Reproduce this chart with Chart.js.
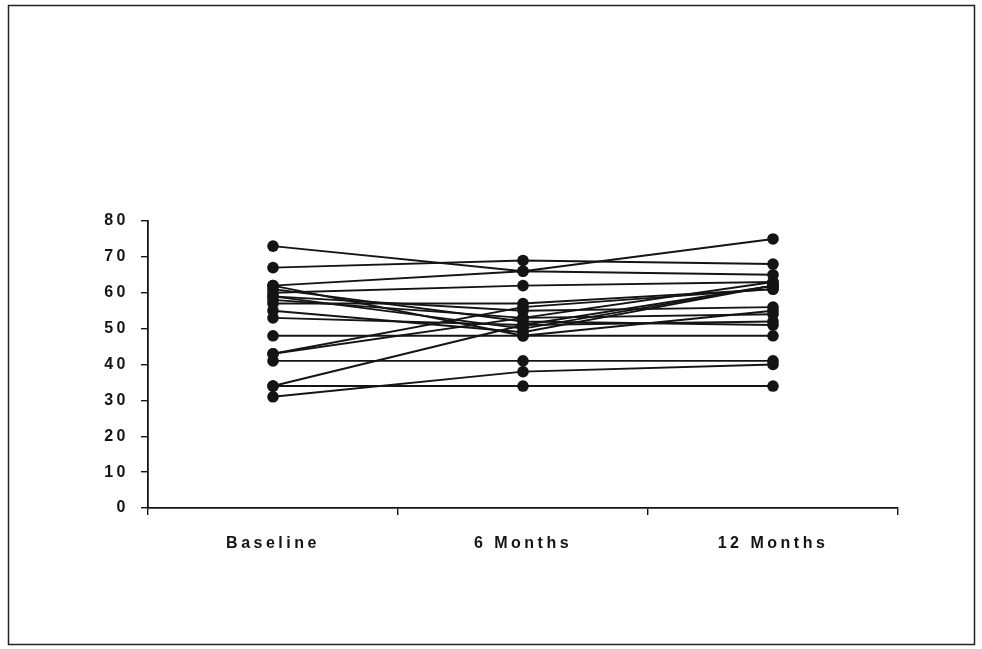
<!DOCTYPE html>
<html>
<head>
<meta charset="utf-8">
<script src="https://cdn.jsdelivr.net/npm/chart.js@4/dist/chart.umd.min.js"></script>
<style>
  html, body { margin: 0; padding: 0; background: #fff; }
  #wrap { position: relative; width: 982px; height: 649px; }
</style>
</head>
<body>
<div id="wrap"><canvas id="c" width="982" height="649"></canvas></div>
<script>
// Time points on the x axis
const timepoints = ['Baseline', '6 Months', '12 Months'];

// One entry per subject, same order in every array
const baseline = [73, 67, 62, 60, 62, 61, 59, 57, 55, 53, 48, 43, 43, 41, 34, 34, 31, 58, 59];
const month6   = [66, 69, 66, 62, 48, 52, 55, 57, 49, 51, 48, 53, 56, 41, 51, 34, 38, 53, 50];
const month12  = [75, 68, 65, 63, 48, 51, 56, 61, 62, 52, 55, 63, 61, 41, 62, 34, 40, 54, 62];

// Y axis range and step
const yMin = 0, yMax = 80, yStep = 10;

const ink = '#141414';
const datasets = baseline.map((b, i) => ({
  data: [b, month6[i], month12[i]],
  borderColor: ink,
  borderWidth: 1.9,
  pointRadius: 5.8,
  pointHoverRadius: 5.8,
  pointBackgroundColor: ink,
  pointBorderColor: ink,
  pointBorderWidth: 0,
  tension: 0,
  fill: false
}));

// Outer frame and spaced lettering for all text
const framePlugin = {
  id: 'frame',
  beforeDraw(chart) {
    const ctx = chart.ctx;
    ctx.save();
    ctx.fillStyle = '#fff';
    ctx.fillRect(0, 0, chart.width, chart.height);
    ctx.strokeStyle = '#222';
    ctx.lineWidth = 1.5;
    ctx.strokeRect(8.5, 5.5, 966, 639);
    ctx.restore();
    ctx.letterSpacing = '3.5px';
  }
};

const tickFont = { family: '"Liberation Sans", Arial, sans-serif', size: 16, weight: 'bold' };

new Chart(document.getElementById('c'), {
  type: 'line',
  data: { labels: timepoints, datasets },
  plugins: [framePlugin],
  options: {
    responsive: false,
    animation: false,
    events: [],
    layout: { padding: { left: 0, right: 84, top: 221, bottom: 81 } },
    plugins: { legend: { display: false }, tooltip: { enabled: false } },
    scales: {
      x: {
        type: 'category',
        offset: true,
        grid: {
          offset: true,
          drawOnChartArea: false,
          drawTicks: true,
          tickLength: 7,
          color: ink,
          lineWidth: 1.4
        },
        border: { display: true, color: ink, width: 1.8 },
        ticks: { color: ink, font: tickFont, padding: 19, maxRotation: 0 },
        afterFit(s) { s.height = 60; }
      },
      y: {
        min: yMin,
        max: yMax,
        grid: {
          drawOnChartArea: false,
          drawTicks: true,
          tickLength: 7,
          color: ink,
          lineWidth: 1.4
        },
        border: { display: true, color: ink, width: 1.8 },
        ticks: { stepSize: yStep, color: ink, font: tickFont, padding: 12 },
        afterFit(s) { s.width = 148; }
      }
    }
  }
});
</script>
</body>
</html>
